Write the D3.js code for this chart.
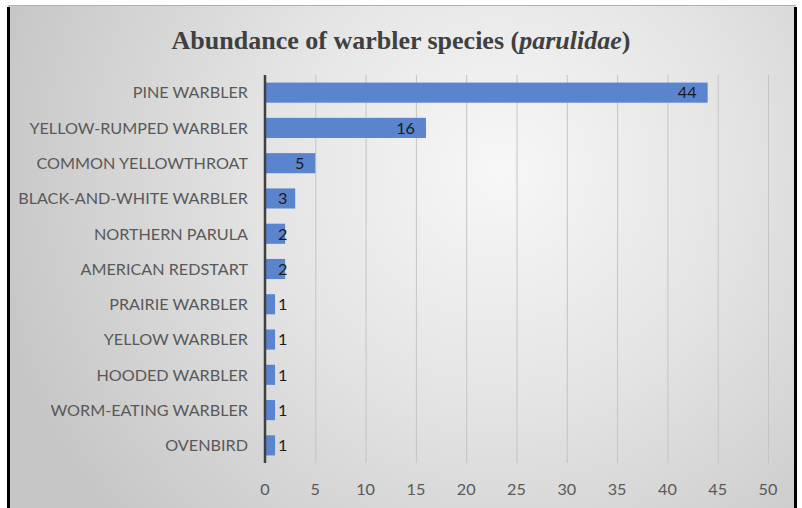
<!DOCTYPE html>
<html><head><meta charset="utf-8">
<script src="https://cdn.jsdelivr.net/npm/d3@7"></script>
<style>body{margin:0;background:#fff}svg{display:block}</style>
</head><body>
<script>
const categories = ["PINE WARBLER","YELLOW-RUMPED WARBLER","COMMON YELLOWTHROAT","BLACK-AND-WHITE WARBLER","NORTHERN PARULA","AMERICAN REDSTART","PRAIRIE WARBLER","YELLOW WARBLER","HOODED WARBLER","WORM-EATING WARBLER","OVENBIRD"];
const values = [44,16,5,3,2,2,1,1,1,1,1];
const ticks = [0,5,10,15,20,25,30,35,40,45,50];

const W = 802, H = 508;
const FONT = "Lato, 'Open Sans', sans-serif";
const svg = d3.select("body").append("svg").attr("width", W).attr("height", H);
const defs = svg.append("defs");
const rg = defs.append("radialGradient").attr("id","bg").attr("gradientUnits","userSpaceOnUse")
  .attr("cx",500).attr("cy",170).attr("r",520);
rg.append("stop").attr("offset","0%").attr("stop-color","#f7f7f7");
rg.append("stop").attr("offset","45%").attr("stop-color","#e4e4e4");
rg.append("stop").attr("offset","100%").attr("stop-color","#c6c6c6");

svg.append("rect").attr("x",8).attr("y",5).attr("width",788).attr("height",H-5).attr("fill","url(#bg)");
svg.append("line").attr("x1",8).attr("x2",796).attr("y1",5.5).attr("y2",5.5).attr("stroke","#b0b0b0").attr("stroke-width",1);
svg.append("line").attr("x1",8.5).attr("x2",8.5).attr("y1",7).attr("y2",H).attr("stroke","#000").attr("stroke-width",3);
svg.append("line").attr("x1",795.5).attr("x2",795.5).attr("y1",7).attr("y2",H).attr("stroke","#000").attr("stroke-width",3);

const x = d3.scaleLinear().domain([0,50]).range([265,768]);
const y = d3.scaleBand().domain(categories).range([75,463]).paddingInner(0.43).paddingOuter(0.215);

svg.append("g").selectAll("line").data(ticks.slice(1)).join("line")
  .attr("x1",d=>x(d)+0.5).attr("x2",d=>x(d)+0.5).attr("y1",75).attr("y2",463)
  .attr("stroke","#c4c4c4").attr("stroke-width",1);

const t = svg.append("text").attr("x",401).attr("y",49).attr("text-anchor","middle")
  .attr("font-family","'Liberation Serif', 'Times New Roman', serif").attr("font-weight","bold")
  .attr("font-size",26).attr("fill","#404040");
t.append("tspan").text("Abundance of warbler species (");
t.append("tspan").attr("font-style","italic").text("parulidae");
t.append("tspan").text(")");

svg.append("g").selectAll("rect").data(values).join("rect")
  .attr("x",x(0)).attr("y",(d,i)=>y(categories[i])).attr("width",d=>x(d)-x(0))
  .attr("height",y.bandwidth()).attr("fill","#5b84cf");

const lab = svg.append("g").selectAll("text").data(values).join("text")
  .attr("y",(d,i)=>y(categories[i])+y.bandwidth()/2).attr("dy","0.36em")
  .attr("font-family",FONT).attr("font-size",16.2).attr("fill","#1a1a1a")
  .text(d=>d);
lab.each(function(d){
  const w = this.getComputedTextLength();
  d3.select(this).attr("x", Math.max(x(d)-11-w, x(0)+13));
});

svg.append("g").selectAll("text").data(categories).join("text")
  .attr("x",248).attr("y",d=>y(d)+y.bandwidth()/2).attr("dy","0.36em").attr("text-anchor","end")
  .attr("font-family",FONT).attr("font-size",16.2).attr("fill","#595959")
  .text(d=>d);

svg.append("g").selectAll("text").data(ticks).join("text")
  .attr("x",d=>x(d)).attr("y",489).attr("dy","0.36em").attr("text-anchor","middle")
  .attr("font-family",FONT).attr("font-size",16.2).attr("fill","#595959")
  .text(d=>d);

svg.append("line").attr("x1",x(0)).attr("x2",x(0)).attr("y1",75).attr("y2",463)
  .attr("stroke","#404040").attr("stroke-width",2.5);
</script>
</body></html>
